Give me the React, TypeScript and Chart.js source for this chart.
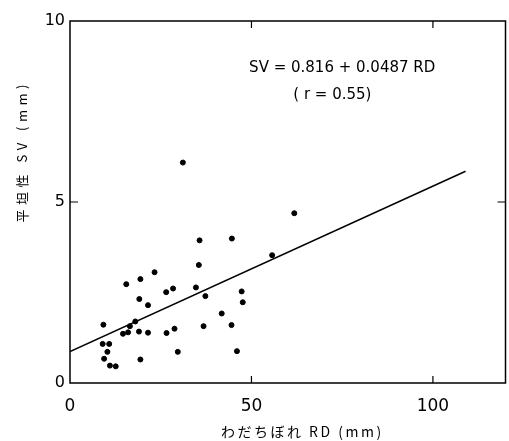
import React, { useEffect, useRef } from "react";
import { Chart, registerables } from "chart.js";
Chart.register(...registerables);

// わだちぼれ RD (mm)
const rdValues = [31.1, 35.7, 44.6, 35.5, 23.3, 19.4, 15.5, 34.7, 28.4, 26.5, 47.3, 37.3, 19.1, 21.5, 47.6, 41.8, 9.2, 18.0, 16.5, 14.6, 16.0, 19.0, 21.5, 26.6, 28.8, 36.8, 44.5, 9.0, 10.8, 10.3, 9.4, 29.7, 46.0, 19.4, 11.0, 12.6, 61.8, 55.7];
// 平坦性 SV (mm)
const svValues = [6.09, 3.94, 3.99, 3.26, 3.06, 2.87, 2.73, 2.64, 2.61, 2.51, 2.53, 2.40, 2.32, 2.15, 2.23, 1.92, 1.61, 1.70, 1.57, 1.36, 1.40, 1.42, 1.39, 1.38, 1.50, 1.57, 1.60, 1.08, 1.08, 0.86, 0.67, 0.86, 0.88, 0.65, 0.48, 0.46, 4.69, 3.53];
// regression line end points (as drawn)
const fitX = [0, 109];
const fitY = [0.87, 5.85];

const xTickValues = [0, 50, 100];
const yTickValues = [0, 5, 10];
const xMin = 0, xMax = 120, yMin = 0, yMax = 10;
const xTitle = "わだちぼれ RD (mm)";
const yTitle = "平坦性 SV (mm)";
const eqLine1 = "SV = 0.816 + 0.0487 RD";
const eqLine2 = "( r = 0.55)";

const framePlugin = {
  id: "frame",
  afterDraw(chart: any) {
    const { ctx, chartArea: a, scales } = chart;
    const xs = scales.x, ys = scales.y;
    ctx.save();
    ctx.strokeStyle = "#000";
    ctx.lineWidth = 1.5;
    ctx.strokeRect(a.left, a.top, a.right - a.left, a.bottom - a.top);
    // inward ticks
    ctx.lineWidth = 1.2;
    xTickValues.forEach((v) => {
      if (v === xMin) return;
      const px = xs.getPixelForValue(v);
      ctx.beginPath();
      ctx.moveTo(px, a.bottom);
      ctx.lineTo(px, a.bottom - 7);
      ctx.moveTo(px, a.top);
      ctx.lineTo(px, a.top + 7);
      ctx.stroke();
    });
    yTickValues.forEach((v) => {
      if (v === yMin || v === yMax) return;
      const py = ys.getPixelForValue(v);
      ctx.beginPath();
      ctx.moveTo(a.left, py);
      ctx.lineTo(a.left + 8, py);
      ctx.moveTo(a.right, py);
      ctx.lineTo(a.right - 8, py);
      ctx.stroke();
    });
    // annotation
    ctx.fillStyle = "#000";
    ctx.textAlign = "center";
    ctx.textBaseline = "middle";
    ctx.font = "15px 'DejaVu Sans'";
    ctx.fillText(eqLine1, xs.getPixelForValue(75), ys.getPixelForValue(8.7));
    ctx.fillText(eqLine2, xs.getPixelForValue(72.3), ys.getPixelForValue(7.95));
    // x title
    ctx.font = "14px 'Noto Sans CJK JP'";
    (ctx as any).letterSpacing = "2.5px";
    ctx.fillText(xTitle, xs.getPixelForValue(64), a.bottom + 49);
    // y title
    ctx.save();
    ctx.translate(22, ys.getPixelForValue(6.4));
    ctx.rotate(-Math.PI / 2);
    (ctx as any).letterSpacing = "4.5px";
    ctx.font = "13px 'Noto Sans CJK JP'";
    ctx.fillText(yTitle, 0, 0);
    ctx.restore();
    ctx.restore();
  },
};

export default function App() {
  const ref = useRef<HTMLCanvasElement>(null);
  useEffect(() => {
    if (!ref.current) return;
    const points = rdValues.map((x, i) => ({ x, y: svValues[i] }));
    const fit = fitX.map((x, i) => ({ x, y: fitY[i] }));
    const chart = new Chart(ref.current, {
      type: "scatter",
      data: {
        datasets: [
          {
            data: points,
            backgroundColor: "#000",
            borderColor: "#000",
            pointRadius: 2.5,
            pointHoverRadius: 2.5,
          },
          {
            type: "line",
            data: fit,
            borderColor: "#000",
            borderWidth: 1.5,
            pointRadius: 0,
            showLine: true,
            fill: false,
          } as any,
        ],
      },
      options: {
        animation: false,
        responsive: false,
        maintainAspectRatio: false,
        layout: { padding: { left: 0, right: 2, top: 21, bottom: 0 } },
        plugins: { legend: { display: false }, tooltip: { enabled: false } },
        scales: {
          x: {
            type: "linear",
            min: xMin,
            max: xMax,
            afterFit: (s: any) => { s.height = 58; },
            border: { display: false },
            grid: { display: false, drawTicks: false },
            ticks: {
              stepSize: 50,
              includeBounds: false,
              padding: 13,
              color: "#000",
              font: { family: "'DejaVu Sans'", size: 17 },
              maxRotation: 0,
            },
          },
          y: {
            type: "linear",
            min: yMin,
            max: yMax,
            afterFit: (s: any) => { s.width = 70; },
            border: { display: false },
            grid: { display: false, drawTicks: false },
            ticks: {
              stepSize: 5,
              includeBounds: false,
              padding: 5,
              color: "#000",
              font: { family: "'DejaVu Sans'", size: 16 },
            },
          },
        },
      },
      plugins: [framePlugin],
    });
    return () => chart.destroy();
  }, []);
  return (
    <div style={{ position: "fixed", left: 0, top: 0, width: 509, height: 441, background: "#fff" }}>
      <canvas ref={ref} width={509} height={441} style={{ width: 509, height: 441 }} />
    </div>
  );
}
